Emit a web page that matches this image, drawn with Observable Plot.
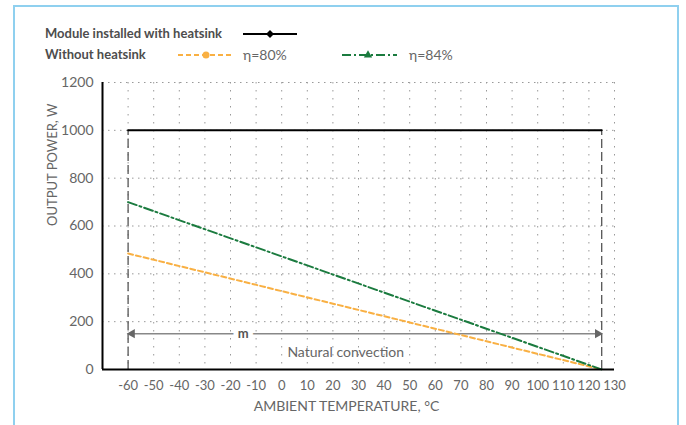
<!DOCTYPE html>
<html>
<head>
<meta charset="utf-8">
<script src="https://cdn.jsdelivr.net/npm/d3@7"></script>
<script src="https://cdn.jsdelivr.net/npm/@observablehq/plot@0.6"></script>
<style>
  html, body { margin: 0; padding: 0; background: #fff; }
  #wrap { position: relative; width: 686px; height: 425px; overflow: hidden; font-family: Lato, sans-serif; }
  #frame { position: absolute; left: 13px; top: 5px; width: 666px; height: 440px;
           border: 2px solid #8fd0ef; border-bottom: none; box-sizing: border-box; }
  #chart { position: absolute; left: 0; top: 0; }
  #legend { position: absolute; left: 0; top: 0; }
</style>
</head>
<body>
<div id="wrap">
  <div id="frame"></div>
  <div id="chart"></div>
  <svg id="legend" width="686" height="70"></svg>
</div>
<script>
// ---- data ----
const xTicks = [-60,-50,-40,-30,-20,-10,0,10,20,30,40,50,60,70,80,90,100,110,120,130];
const yTicks = [0,200,400,600,800,1000,1200];
const tempRange = [-60, 125];
const withHeatsink = [1000, 1000];
const eta80 = [485, 0];
const eta84 = [700, 0];
const convectionLevel = 150;
const mLabelX = -15;
const convectionTextX = 25;
const convectionTextY = 72;

const FONT = 'Lato, "Open Sans", sans-serif';
const ORANGE = "#f9b043";
const GREEN = "#1b7b3f";
const fmt = d => String(d);

const heat = tempRange.map((t, i) => ({t, p: withHeatsink[i]}));
const s80 = tempRange.map((t, i) => ({t, p: eta80[i]}));
const s84 = tempRange.map((t, i) => ({t, p: eta84[i]}));

const chart = Plot.plot({
  width: 686,
  height: 425,
  marginLeft: 102,
  marginRight: 72,
  marginTop: 82,
  marginBottom: 56,
  style: {fontFamily: FONT, fontSize: "13px", color: "#666", background: "transparent"},
  x: {domain: [-70, 130], label: null},
  y: {domain: [0, 1200], label: null},
  marks: [
    Plot.gridX(xTicks, {stroke: "#999", strokeOpacity: 1, strokeDasharray: "1.5,6.5"}),
    Plot.gridY(yTicks.filter(d => d > 0), {stroke: "#999", strokeOpacity: 1, strokeDasharray: "1.5,4.5"}),
    Plot.axisX(xTicks, {tickSize: 0, tickPadding: 11, fill: "#666", fontSize: 13, tickFormat: fmt, label: null}),
    Plot.axisY(yTicks, {tickSize: 0, tickPadding: 9, fill: "#666", fontSize: 14, tickFormat: fmt, label: null}),
    Plot.text(["OUTPUT POWER, W"], {frameAnchor: "left", dx: -50, rotate: -90, fill: "#666", fontSize: 13}),
    Plot.text(["AMBIENT TEMPERATURE, °C"], {frameAnchor: "bottom", dx: -12, dy: 41, fill: "#666", fontSize: 14}),
    // boundary dashed verticals
    Plot.ruleX(tempRange, {y1: 0, y2: withHeatsink[0], stroke: "#555", strokeWidth: 1.3, strokeDasharray: "9,4"}),
    // natural convection arrow
    Plot.ruleY([convectionLevel], {x1: tempRange[0], x2: tempRange[1], stroke: "#888", strokeWidth: 1.5}),
    Plot.dot([tempRange[0]], {x: d => d, y: convectionLevel, symbol: "triangle", rotate: -90, r: 3.5, fill: "#666", stroke: "none", dx: 4}),
    Plot.dot([tempRange[1]], {x: d => d, y: convectionLevel, symbol: "triangle", rotate: 90, r: 3.5, fill: "#666", stroke: "none", dx: -4}),
    Plot.text(["m"], {x: mLabelX, y: convectionLevel, fill: "#555", fontWeight: "bold", fontSize: 13,
                      stroke: "#fff", strokeWidth: 10, paintOrder: "stroke"}),
    Plot.text(["Natural convection"], {x: convectionTextX, y: convectionTextY, fill: "#666", fontSize: 14}),
    // series
    Plot.line(s80, {x: "t", y: "p", stroke: ORANGE, strokeWidth: 2, strokeDasharray: "5,3"}),
    Plot.line(s84, {x: "t", y: "p", stroke: GREEN, strokeWidth: 2, strokeDasharray: "9,3,2,3"}),
    Plot.line(heat, {x: "t", y: "p", stroke: "#000", strokeWidth: 2}),
    // axis lines
    Plot.ruleX([-70], {stroke: "#000", strokeWidth: 2}),
    Plot.ruleY([0], {stroke: "#000", strokeWidth: 2})
  ]
});
document.getElementById("chart").appendChild(chart);

// ---- legend ----
const lg = d3.select("#legend").style("font-family", FONT);
lg.append("text").attr("x", 45).attr("y", 38).attr("fill", "#4d4d4d").attr("font-weight", "bold")
  .attr("font-size", 13).text("Module installed with heatsink");
lg.append("line").attr("x1", 243).attr("x2", 297).attr("y1", 34).attr("y2", 34).attr("stroke", "#000").attr("stroke-width", 2);
lg.append("path").attr("d", d3.symbol(d3.symbolDiamond2, 40)()).attr("transform", "translate(270,34)").attr("fill", "#000");

lg.append("text").attr("x", 45).attr("y", 59).attr("fill", "#4d4d4d").attr("font-weight", "bold")
  .attr("font-size", 13).text("Without heatsink");
lg.append("line").attr("x1", 178).attr("x2", 233).attr("y1", 55).attr("y2", 55).attr("stroke", ORANGE).attr("stroke-width", 2).attr("stroke-dasharray", "5,3");
lg.append("circle").attr("cx", 206).attr("cy", 55).attr("r", 3.5).attr("fill", ORANGE);
lg.append("text").attr("x", 243).attr("y", 60).attr("fill", "#666").attr("font-size", 14).text("η=80%");
lg.append("line").attr("x1", 342).attr("x2", 397).attr("y1", 55).attr("y2", 55).attr("stroke", GREEN).attr("stroke-width", 2).attr("stroke-dasharray", "9,3,2,3");
lg.append("path").attr("d", d3.symbol(d3.symbolTriangle, 30)()).attr("transform", "translate(368,55)").attr("fill", GREEN);
lg.append("text").attr("x", 409).attr("y", 60).attr("fill", "#666").attr("font-size", 14).text("η=84%");
</script>
</body>
</html>
